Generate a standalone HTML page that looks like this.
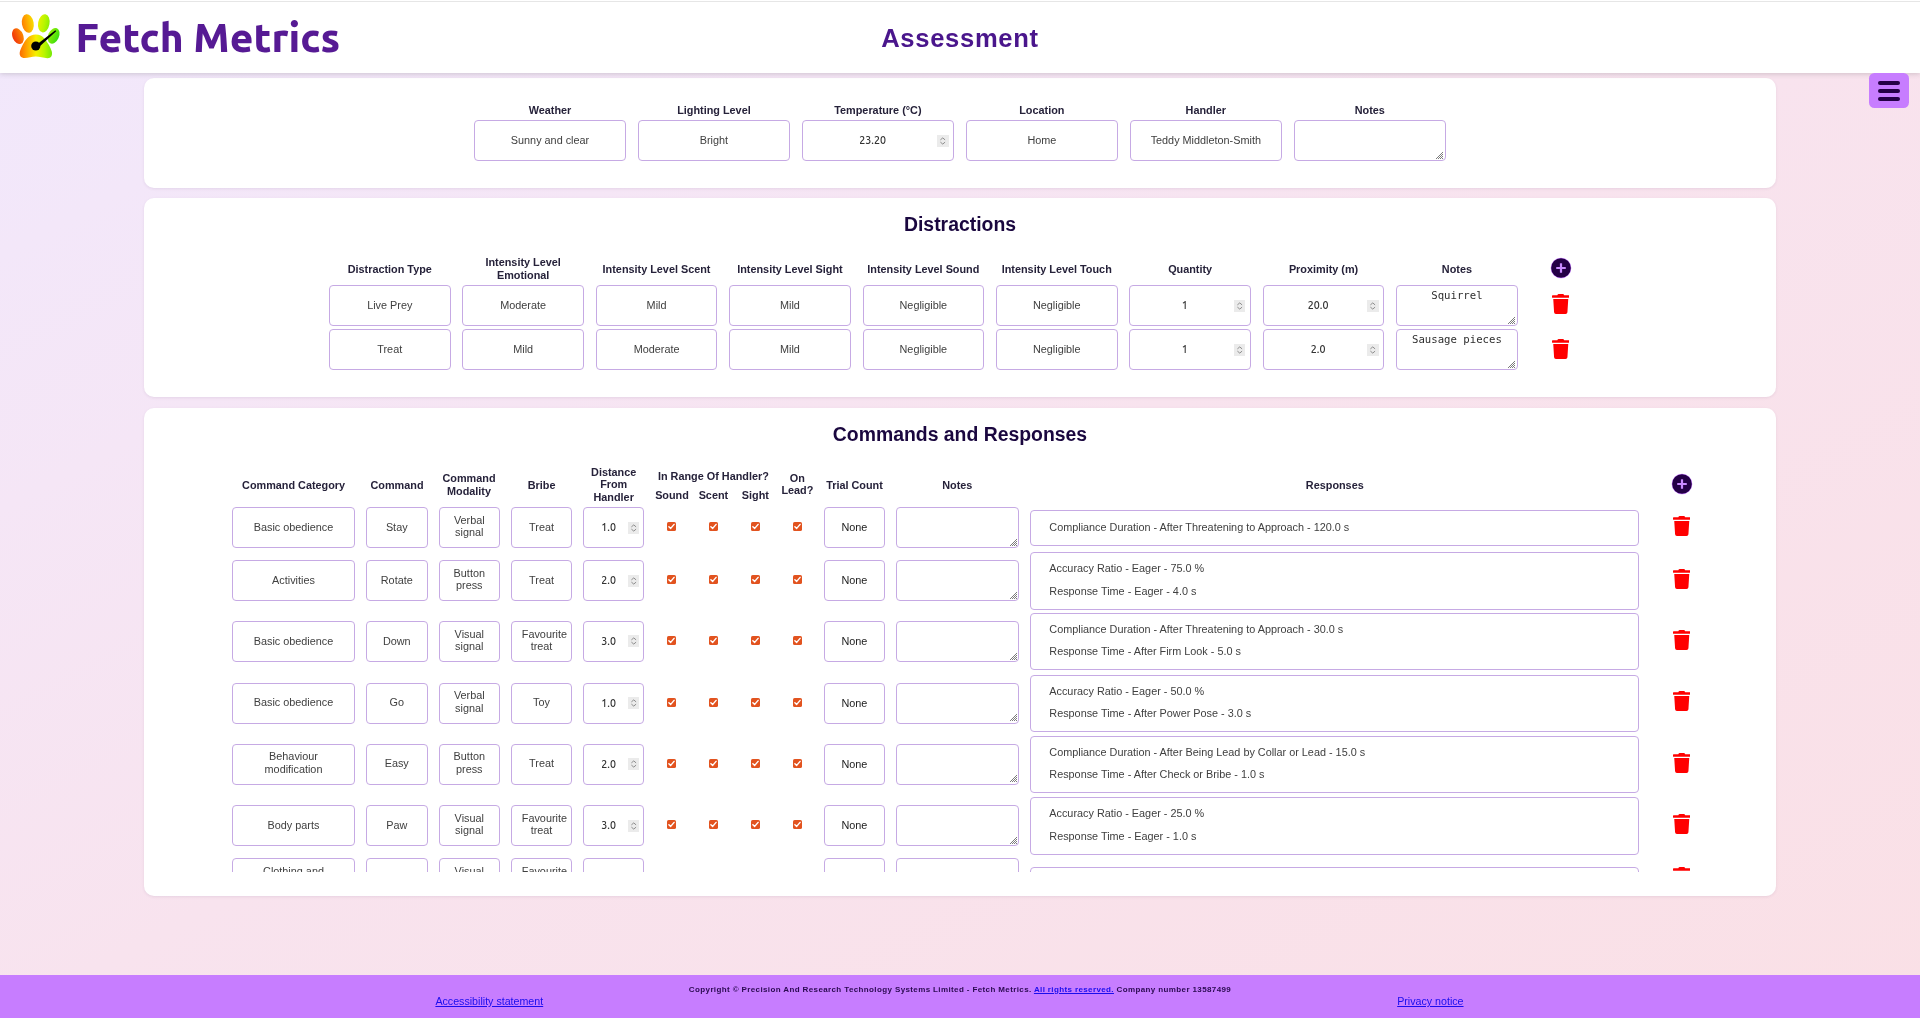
<!DOCTYPE html>
<html lang="en"><head><meta charset="utf-8"><title>Assessment - Fetch Metrics</title>
<style>
*{box-sizing:border-box}
html,body{margin:0;padding:0}
body{width:1920px;height:1018px;overflow:hidden;position:relative;
 background:linear-gradient(to bottom right,#f1e8fc 0%,#f5e6f6 25%,#f8e3ee 50%,#fae0e6 100%);
 font-family:"Liberation Sans", Arial, sans-serif;}
.abs{position:absolute}
#hdr{position:absolute;left:0;top:0;width:1920px;height:73px;background:#fff;
 box-shadow:0 1px 5px rgba(70,70,70,.22);z-index:2}
#hdr .topline{position:absolute;left:0;top:1px;width:1920px;height:1px;background:#e6e6e6}
#logo{position:absolute;left:10px;top:12px}
#brand{position:absolute;left:75.6px;top:12.4px;font-family:"Ubuntu","DejaVu Sans",sans-serif;font-weight:700;
 font-size:40.6px;font-weight:800;color:#561a94;line-height:50px;white-space:nowrap;letter-spacing:0px}
#title{position:absolute;left:0;width:1920px;top:22.8px;text-align:center;font-weight:700;font-size:25.6px;
 color:#4a168c;letter-spacing:0.68px;line-height:30px}
#burger{position:absolute;left:1869.3px;top:73.3px;width:40px;height:34.5px;background:#c77dff;border-radius:5.5px;z-index:3}
#burger i{position:absolute;left:9px;width:22px;height:3.2px;border-radius:2px;background:#240046}
.card{position:absolute;left:144px;width:1632px;background:#fff;border-radius:10px;
 box-shadow:0 1px 3px rgba(90,60,110,.10)}
.inp{position:absolute;background:#fff;border:1px solid #c6aae4;border-radius:4px;overflow:hidden}
.tv{position:absolute;left:9.7px;right:9.7px;top:50%;transform:translateY(-50%);margin-top:-0.8px;text-align:center;font-size:10.85px;
 line-height:12.6px;color:#404040;white-space:nowrap}
.nv{position:absolute;left:3.2px;top:50%;transform:translateY(-50%);margin-top:-0.6px;text-align:center;font-family:"Ubuntu", "Liberation Sans", sans-serif;
 font-size:10.67px;font-weight:500;line-height:12.27px;color:#333;white-space:nowrap}
.spin{position:absolute;top:50%;width:11.5px;height:12px;margin-top:-6px;background:#ebebeb}
.spin i{position:absolute;left:3.2px;width:5px;height:5px;border-left:1.1px solid #8a8a8a;border-top:1.1px solid #8a8a8a}
.spin i.up{top:3px;transform:scaleY(.7) rotate(45deg)}
.spin i.dn{top:4.6px;transform:scaleY(.7) rotate(225deg)}
.ta{position:absolute;left:0;right:0;top:2.6px;text-align:center;font-family:"DejaVu Sans Mono", "Liberation Mono", monospace;font-size:10.67px;
 line-height:13px;color:#2e2e2e;white-space:nowrap}
.grip{position:absolute;right:1.3px;bottom:1.3px}
.lbl{position:absolute;width:200px;text-align:center;font-weight:700;font-size:10.85px;line-height:12.27px;
 color:#26223a;white-space:nowrap}
.h2{position:absolute;left:0;width:1920px;text-align:center;font-weight:700;font-size:19.4px;line-height:22px;color:#1a073f}
.trash{position:absolute}
.plus{position:absolute}
.cb{position:absolute}
.resp{position:absolute;background:#fff;border:1px solid #c6aae4;border-radius:4px;padding:4.5px 18px 6.9px;
 font-size:10.85px;color:#404040}
.resp div{line-height:22.1px;height:22.1px;white-space:nowrap}
#clip{position:absolute;left:0;top:0;width:1920px;height:871.5px;overflow:hidden}
#ftr{position:absolute;left:0;top:975px;width:1920px;height:43px;background:#c77dff}
#ftr a{position:absolute;color:#1a0dee;font-size:10.67px;line-height:12px;text-decoration:underline;white-space:nowrap}
#copy{position:absolute;left:0;width:1920px;top:984.8px;text-align:center;font-weight:700;font-size:8px;
 color:#2a0a50;white-space:nowrap;letter-spacing:0.38px;line-height:10px}
#copy a{color:#1a0dee;text-decoration:underline}
</style></head><body>
<div id="root" style="position:absolute;left:0;top:0;width:1920px;height:1018px;will-change:transform;filter:blur(0.35px)">

<div id="hdr"><div class="topline"></div>
<svg id="logo" width="52" height="50" viewBox="0 0 52 50">
<defs><linearGradient id="pg" x1="2" y1="0" x2="50" y2="0" gradientUnits="userSpaceOnUse">
<stop offset="0" stop-color="#f0300c"/><stop offset="0.28" stop-color="#ff9a00"/>
<stop offset="0.5" stop-color="#f6f000"/><stop offset="0.68" stop-color="#b6f500"/>
<stop offset="1" stop-color="#2fdc10"/></linearGradient></defs>
<g fill="url(#pg)">
<ellipse cx="7.9" cy="24.2" rx="5.4" ry="8.2" transform="rotate(-22 7.9 24.2)"/>
<ellipse cx="17.8" cy="11.5" rx="5.9" ry="9.3" transform="rotate(-10 17.8 11.5)"/>
<ellipse cx="33.8" cy="11.3" rx="5.7" ry="9.2" transform="rotate(10 33.8 11.3)"/>
<ellipse cx="43.6" cy="23.8" rx="5.4" ry="8.2" transform="rotate(24 43.6 23.8)"/>
<path d="M25.8 22.4C29.5 22.4 32.2 23.6 34.4 26.4C37.6 30.4 40.8 35.4 41.8 39.6C42.8 44 40.6 46.4 37.4 46.2C33.4 46 29.6 44.6 25.6 44.6C21.6 44.6 17 46.6 13.4 46C9.8 45.4 9 42 10.2 38.6C11.6 34.4 14 29.6 17.2 26.2C19.6 23.6 22.4 22.4 25.8 22.4Z"/>
</g>
<path d="M24.2 34.6L45.4 18.2L46.2 19.2L26.6 37.2Z" fill="#000"/>
<circle cx="25.8" cy="34" r="4.6" fill="#000"/>
</svg>
<div id="brand">Fetch Metrics</div>
<div id="title">Assessment</div>
</div>
<div id="burger"><i style="top:8.2px"></i><i style="top:16.2px"></i><i style="top:24.2px"></i></div>
<div class="card" style="top:78px;height:110px"></div>
<div class="lbl" style="left:450.0px;top:104.27px;">Weather</div>
<div class="inp" style="left:474.0px;top:120.0px;width:152.0px;height:41px;">
<div class="tv">Sunny and clear</div></div>
<div class="lbl" style="left:613.95px;top:104.27px;">Lighting Level</div>
<div class="inp" style="left:637.95px;top:120.0px;width:152.0px;height:41px;">
<div class="tv">Bright</div></div>
<div class="lbl" style="left:777.9px;top:104.27px;">Temperature (°C)</div>
<div class="inp" style="left:801.9px;top:120.0px;width:152.0px;height:41px;">
<div class="nv" style="width:133.2px">23.20</div>
<svg class="spin" style="right:4.3px" width="11.5" height="12" viewBox="0 0 11.5 12"><path d="M3.4 4.9L5.75 2.9L8.1 4.9M3.4 7.1L5.75 9.1L8.1 7.1" stroke="#8c8c8c" stroke-width="1" fill="none"/></svg>
</div>
<div class="lbl" style="left:941.85px;top:104.27px;">Location</div>
<div class="inp" style="left:965.85px;top:120.0px;width:152.0px;height:41px;">
<div class="tv">Home</div></div>
<div class="lbl" style="left:1105.8px;top:104.27px;">Handler</div>
<div class="inp" style="left:1129.8px;top:120.0px;width:152.0px;height:41px;">
<div class="tv">Teddy Middleton-Smith</div></div>
<div class="lbl" style="left:1269.75px;top:104.27px;">Notes</div>
<div class="inp" style="left:1293.75px;top:120.0px;width:152.0px;height:41px;">
<svg class="grip" width="7" height="7" viewBox="0 0 7 7"><g fill="#7c7c7c"><rect x="0" y="6" width="1" height="1"/><rect x="1" y="5" width="1" height="1"/><rect x="2" y="4" width="1" height="1"/><rect x="2" y="6" width="1" height="1"/><rect x="3" y="3" width="1" height="1"/><rect x="3" y="5" width="1" height="1"/><rect x="4" y="2" width="1" height="1"/><rect x="4" y="4" width="1" height="1"/><rect x="4" y="6" width="1" height="1"/><rect x="5" y="1" width="1" height="1"/><rect x="5" y="3" width="1" height="1"/><rect x="5" y="5" width="1" height="1"/><rect x="6" y="0" width="1" height="1"/><rect x="6" y="2" width="1" height="1"/><rect x="6" y="4" width="1" height="1"/><rect x="6" y="6" width="1" height="1"/></g></svg>
</div>
<div class="card" style="top:197.5px;height:199.5px"></div>
<div class="h2" style="top:212.6px">Distractions</div>
<div class="lbl" style="left:289.75px;top:263.27px;">Distraction Type</div>
<div class="lbl" style="left:423.15px;top:256.4px;">Intensity Level<br>Emotional</div>
<div class="lbl" style="left:556.55px;top:263.27px;">Intensity Level Scent</div>
<div class="lbl" style="left:689.95px;top:263.27px;">Intensity Level Sight</div>
<div class="lbl" style="left:823.35px;top:263.27px;">Intensity Level Sound</div>
<div class="lbl" style="left:956.75px;top:263.27px;">Intensity Level Touch</div>
<div class="lbl" style="left:1090.15px;top:263.27px;">Quantity</div>
<div class="lbl" style="left:1223.55px;top:263.27px;">Proximity (m)</div>
<div class="lbl" style="left:1356.95px;top:263.27px;">Notes</div>
<div class="inp" style="left:329.0px;top:285.0px;width:121.5px;height:41px;">
<div class="tv">Live Prey</div></div>
<div class="inp" style="left:462.4px;top:285.0px;width:121.5px;height:41px;">
<div class="tv">Moderate</div></div>
<div class="inp" style="left:595.8px;top:285.0px;width:121.5px;height:41px;">
<div class="tv">Mild</div></div>
<div class="inp" style="left:729.2px;top:285.0px;width:121.5px;height:41px;">
<div class="tv">Mild</div></div>
<div class="inp" style="left:862.6px;top:285.0px;width:121.5px;height:41px;">
<div class="tv">Negligible</div></div>
<div class="inp" style="left:996.0px;top:285.0px;width:121.5px;height:41px;">
<div class="tv">Negligible</div></div>
<div class="inp" style="left:1129.4px;top:285.0px;width:121.5px;height:41px;">
<div class="nv" style="width:102.4px">1</div>
<svg class="spin" style="right:4.6px" width="11.5" height="12" viewBox="0 0 11.5 12"><path d="M3.4 4.9L5.75 2.9L8.1 4.9M3.4 7.1L5.75 9.1L8.1 7.1" stroke="#8c8c8c" stroke-width="1" fill="none"/></svg>
</div>
<div class="inp" style="left:1262.8px;top:285.0px;width:121.5px;height:41px;">
<div class="nv" style="width:102.4px">20.0</div>
<svg class="spin" style="right:4.6px" width="11.5" height="12" viewBox="0 0 11.5 12"><path d="M3.4 4.9L5.75 2.9L8.1 4.9M3.4 7.1L5.75 9.1L8.1 7.1" stroke="#8c8c8c" stroke-width="1" fill="none"/></svg>
</div>
<div class="inp" style="left:1396.2px;top:285.0px;width:121.5px;height:41px;">
<div class="ta">Squirrel</div>
<svg class="grip" width="7" height="7" viewBox="0 0 7 7"><g fill="#7c7c7c"><rect x="0" y="6" width="1" height="1"/><rect x="1" y="5" width="1" height="1"/><rect x="2" y="4" width="1" height="1"/><rect x="2" y="6" width="1" height="1"/><rect x="3" y="3" width="1" height="1"/><rect x="3" y="5" width="1" height="1"/><rect x="4" y="2" width="1" height="1"/><rect x="4" y="4" width="1" height="1"/><rect x="4" y="6" width="1" height="1"/><rect x="5" y="1" width="1" height="1"/><rect x="5" y="3" width="1" height="1"/><rect x="5" y="5" width="1" height="1"/><rect x="6" y="0" width="1" height="1"/><rect x="6" y="2" width="1" height="1"/><rect x="6" y="4" width="1" height="1"/><rect x="6" y="6" width="1" height="1"/></g></svg>
</div>
<div class="inp" style="left:329.0px;top:329.3px;width:121.5px;height:41px;">
<div class="tv">Treat</div></div>
<div class="inp" style="left:462.4px;top:329.3px;width:121.5px;height:41px;">
<div class="tv">Mild</div></div>
<div class="inp" style="left:595.8px;top:329.3px;width:121.5px;height:41px;">
<div class="tv">Moderate</div></div>
<div class="inp" style="left:729.2px;top:329.3px;width:121.5px;height:41px;">
<div class="tv">Mild</div></div>
<div class="inp" style="left:862.6px;top:329.3px;width:121.5px;height:41px;">
<div class="tv">Negligible</div></div>
<div class="inp" style="left:996.0px;top:329.3px;width:121.5px;height:41px;">
<div class="tv">Negligible</div></div>
<div class="inp" style="left:1129.4px;top:329.3px;width:121.5px;height:41px;">
<div class="nv" style="width:102.4px">1</div>
<svg class="spin" style="right:4.6px" width="11.5" height="12" viewBox="0 0 11.5 12"><path d="M3.4 4.9L5.75 2.9L8.1 4.9M3.4 7.1L5.75 9.1L8.1 7.1" stroke="#8c8c8c" stroke-width="1" fill="none"/></svg>
</div>
<div class="inp" style="left:1262.8px;top:329.3px;width:121.5px;height:41px;">
<div class="nv" style="width:102.4px">2.0</div>
<svg class="spin" style="right:4.6px" width="11.5" height="12" viewBox="0 0 11.5 12"><path d="M3.4 4.9L5.75 2.9L8.1 4.9M3.4 7.1L5.75 9.1L8.1 7.1" stroke="#8c8c8c" stroke-width="1" fill="none"/></svg>
</div>
<div class="inp" style="left:1396.2px;top:329.3px;width:121.5px;height:41px;">
<div class="ta">Sausage pieces</div>
<svg class="grip" width="7" height="7" viewBox="0 0 7 7"><g fill="#7c7c7c"><rect x="0" y="6" width="1" height="1"/><rect x="1" y="5" width="1" height="1"/><rect x="2" y="4" width="1" height="1"/><rect x="2" y="6" width="1" height="1"/><rect x="3" y="3" width="1" height="1"/><rect x="3" y="5" width="1" height="1"/><rect x="4" y="2" width="1" height="1"/><rect x="4" y="4" width="1" height="1"/><rect x="4" y="6" width="1" height="1"/><rect x="5" y="1" width="1" height="1"/><rect x="5" y="3" width="1" height="1"/><rect x="5" y="5" width="1" height="1"/><rect x="6" y="0" width="1" height="1"/><rect x="6" y="2" width="1" height="1"/><rect x="6" y="4" width="1" height="1"/><rect x="6" y="6" width="1" height="1"/></g></svg>
</div>
<svg class="plus" style="left:1549.6px;top:257.3px" width="22" height="22" viewBox="0 0 22 22"><circle cx="11" cy="11" r="10.3" fill="#c77dff"/><circle cx="11" cy="11" r="9.8" fill="#240046"/><rect x="6.2" y="9.9" width="9.6" height="2.2" rx="0.5" fill="#c98aff"/><rect x="9.9" y="6.2" width="2.2" height="9.6" rx="0.5" fill="#c98aff"/></svg>
<svg class="trash" style="left:1551.85px;top:293.7px" viewBox="0 0 448 512" width="17.5" height="20"><path fill="#ff0000" d="M432 32H312l-9.4-18.7A24 24 0 0 0 281.1 0H166.8a23.72 23.72 0 0 0-21.4 13.3L136 32H16A16 16 0 0 0 0 48v32a16 16 0 0 0 16 16h416a16 16 0 0 0 16-16V48a16 16 0 0 0-16-16zM53.2 467a48 48 0 0 0 47.9 45h245.8a48 48 0 0 0 47.9-45L416 128H32z"/></svg>
<svg class="trash" style="left:1551.85px;top:338.6px" viewBox="0 0 448 512" width="17.5" height="20"><path fill="#ff0000" d="M432 32H312l-9.4-18.7A24 24 0 0 0 281.1 0H166.8a23.72 23.72 0 0 0-21.4 13.3L136 32H16A16 16 0 0 0 0 48v32a16 16 0 0 0 16 16h416a16 16 0 0 0 16-16V48a16 16 0 0 0-16-16zM53.2 467a48 48 0 0 0 47.9 45h245.8a48 48 0 0 0 47.9-45L416 128H32z"/></svg>
<div class="card" style="top:408px;height:488px"></div>
<div class="h2" style="top:422.6px">Commands and Responses</div>
<div class="lbl" style="left:193.6px;top:479.17px;">Command Category</div>
<div class="lbl" style="left:297.0px;top:479.17px;">Command</div>
<div class="lbl" style="left:369.0px;top:472.37px;">Command<br>Modality</div>
<div class="lbl" style="left:441.6px;top:479.17px;">Bribe</div>
<div class="lbl" style="left:513.7px;top:466.15px;">Distance<br>From<br>Handler</div>
<div class="lbl" style="left:613.4px;top:469.57px;">In Range Of Handler?</div>
<div class="lbl" style="left:572.0px;top:488.97px;">Sound</div>
<div class="lbl" style="left:613.4px;top:488.97px;">Scent</div>
<div class="lbl" style="left:655.4px;top:488.97px;">Sight</div>
<div class="lbl" style="left:697.4px;top:471.8px;">On<br>Lead?</div>
<div class="lbl" style="left:754.5px;top:478.77px;">Trial Count</div>
<div class="lbl" style="left:857.3px;top:478.97px;">Notes</div>
<div class="lbl" style="left:1234.8px;top:478.97px;">Responses</div>
<svg class="plus" style="left:1670.9px;top:473.3px" width="22" height="22" viewBox="0 0 22 22"><circle cx="11" cy="11" r="10.3" fill="#c77dff"/><circle cx="11" cy="11" r="9.8" fill="#240046"/><rect x="6.2" y="9.9" width="9.6" height="2.2" rx="0.5" fill="#c98aff"/><rect x="9.9" y="6.2" width="2.2" height="9.6" rx="0.5" fill="#c98aff"/></svg>
<div id="clip">
<div class="inp" style="left:232.0px;top:507.0px;width:123.0px;height:41px;">
<div class="tv">Basic obedience</div></div>
<div class="inp" style="left:365.8px;top:507.0px;width:61.9px;height:41px;">
<div class="tv">Stay</div></div>
<div class="inp" style="left:438.9px;top:507.0px;width:60.8px;height:41px;">
<div class="tv">Verbal<br>signal</div></div>
<div class="inp" style="left:511.1px;top:507.0px;width:60.9px;height:41px;">
<div class="tv">Treat</div></div>
<div class="inp" style="left:583.1px;top:507.0px;width:61.1px;height:41px;">
<div class="nv" style="width:42.6px">1.0</div>
<svg class="spin" style="right:4.0px" width="11.5" height="12" viewBox="0 0 11.5 12"><path d="M3.4 4.9L5.75 2.9L8.1 4.9M3.4 7.1L5.75 9.1L8.1 7.1" stroke="#8c8c8c" stroke-width="1" fill="none"/></svg>
</div>
<svg class="cb" style="left:666.9px;top:522.4px" width="9" height="9" viewBox="0 0 9 9"><rect x="0" y="0" width="9" height="9" rx="1.6" fill="#e2531f"/><path d="M1.9 4.7L3.7 6.4L7.1 2.4" stroke="#fff" stroke-width="1.45" fill="none" stroke-linecap="round" stroke-linejoin="round"/></svg>
<svg class="cb" style="left:708.9px;top:522.4px" width="9" height="9" viewBox="0 0 9 9"><rect x="0" y="0" width="9" height="9" rx="1.6" fill="#e2531f"/><path d="M1.9 4.7L3.7 6.4L7.1 2.4" stroke="#fff" stroke-width="1.45" fill="none" stroke-linecap="round" stroke-linejoin="round"/></svg>
<svg class="cb" style="left:750.9px;top:522.4px" width="9" height="9" viewBox="0 0 9 9"><rect x="0" y="0" width="9" height="9" rx="1.6" fill="#e2531f"/><path d="M1.9 4.7L3.7 6.4L7.1 2.4" stroke="#fff" stroke-width="1.45" fill="none" stroke-linecap="round" stroke-linejoin="round"/></svg>
<svg class="cb" style="left:792.9px;top:522.4px" width="9" height="9" viewBox="0 0 9 9"><rect x="0" y="0" width="9" height="9" rx="1.6" fill="#e2531f"/><path d="M1.9 4.7L3.7 6.4L7.1 2.4" stroke="#fff" stroke-width="1.45" fill="none" stroke-linecap="round" stroke-linejoin="round"/></svg>
<div class="inp" style="left:824.0px;top:507.0px;width:60.9px;height:41px;">
<div class="tv" style="color:#222;margin-top:-0.3px">None</div></div>
<div class="inp" style="left:896.0px;top:507.0px;width:122.9px;height:41px;">
<svg class="grip" width="7" height="7" viewBox="0 0 7 7"><g fill="#7c7c7c"><rect x="0" y="6" width="1" height="1"/><rect x="1" y="5" width="1" height="1"/><rect x="2" y="4" width="1" height="1"/><rect x="2" y="6" width="1" height="1"/><rect x="3" y="3" width="1" height="1"/><rect x="3" y="5" width="1" height="1"/><rect x="4" y="2" width="1" height="1"/><rect x="4" y="4" width="1" height="1"/><rect x="4" y="6" width="1" height="1"/><rect x="5" y="1" width="1" height="1"/><rect x="5" y="3" width="1" height="1"/><rect x="5" y="5" width="1" height="1"/><rect x="6" y="0" width="1" height="1"/><rect x="6" y="2" width="1" height="1"/><rect x="6" y="4" width="1" height="1"/><rect x="6" y="6" width="1" height="1"/></g></svg>
</div>
<div class="resp" style="left:1030.3px;top:510.0px;width:609.2px;height:35.5px">
<div>Compliance Duration - After Threatening to Approach - 120.0 s</div>
</div>
<svg class="trash" style="left:1672.65px;top:515.8px" viewBox="0 0 448 512" width="17.5" height="20"><path fill="#ff0000" d="M432 32H312l-9.4-18.7A24 24 0 0 0 281.1 0H166.8a23.72 23.72 0 0 0-21.4 13.3L136 32H16A16 16 0 0 0 0 48v32a16 16 0 0 0 16 16h416a16 16 0 0 0 16-16V48a16 16 0 0 0-16-16zM53.2 467a48 48 0 0 0 47.9 45h245.8a48 48 0 0 0 47.9-45L416 128H32z"/></svg>
<div class="inp" style="left:232.0px;top:560.0px;width:123.0px;height:41px;">
<div class="tv">Activities</div></div>
<div class="inp" style="left:365.8px;top:560.0px;width:61.9px;height:41px;">
<div class="tv">Rotate</div></div>
<div class="inp" style="left:438.9px;top:560.0px;width:60.8px;height:41px;">
<div class="tv">Button<br>press</div></div>
<div class="inp" style="left:511.1px;top:560.0px;width:60.9px;height:41px;">
<div class="tv">Treat</div></div>
<div class="inp" style="left:583.1px;top:560.0px;width:61.1px;height:41px;">
<div class="nv" style="width:42.6px">2.0</div>
<svg class="spin" style="right:4.0px" width="11.5" height="12" viewBox="0 0 11.5 12"><path d="M3.4 4.9L5.75 2.9L8.1 4.9M3.4 7.1L5.75 9.1L8.1 7.1" stroke="#8c8c8c" stroke-width="1" fill="none"/></svg>
</div>
<svg class="cb" style="left:666.9px;top:575.4px" width="9" height="9" viewBox="0 0 9 9"><rect x="0" y="0" width="9" height="9" rx="1.6" fill="#e2531f"/><path d="M1.9 4.7L3.7 6.4L7.1 2.4" stroke="#fff" stroke-width="1.45" fill="none" stroke-linecap="round" stroke-linejoin="round"/></svg>
<svg class="cb" style="left:708.9px;top:575.4px" width="9" height="9" viewBox="0 0 9 9"><rect x="0" y="0" width="9" height="9" rx="1.6" fill="#e2531f"/><path d="M1.9 4.7L3.7 6.4L7.1 2.4" stroke="#fff" stroke-width="1.45" fill="none" stroke-linecap="round" stroke-linejoin="round"/></svg>
<svg class="cb" style="left:750.9px;top:575.4px" width="9" height="9" viewBox="0 0 9 9"><rect x="0" y="0" width="9" height="9" rx="1.6" fill="#e2531f"/><path d="M1.9 4.7L3.7 6.4L7.1 2.4" stroke="#fff" stroke-width="1.45" fill="none" stroke-linecap="round" stroke-linejoin="round"/></svg>
<svg class="cb" style="left:792.9px;top:575.4px" width="9" height="9" viewBox="0 0 9 9"><rect x="0" y="0" width="9" height="9" rx="1.6" fill="#e2531f"/><path d="M1.9 4.7L3.7 6.4L7.1 2.4" stroke="#fff" stroke-width="1.45" fill="none" stroke-linecap="round" stroke-linejoin="round"/></svg>
<div class="inp" style="left:824.0px;top:560.0px;width:60.9px;height:41px;">
<div class="tv" style="color:#222;margin-top:-0.3px">None</div></div>
<div class="inp" style="left:896.0px;top:560.0px;width:122.9px;height:41px;">
<svg class="grip" width="7" height="7" viewBox="0 0 7 7"><g fill="#7c7c7c"><rect x="0" y="6" width="1" height="1"/><rect x="1" y="5" width="1" height="1"/><rect x="2" y="4" width="1" height="1"/><rect x="2" y="6" width="1" height="1"/><rect x="3" y="3" width="1" height="1"/><rect x="3" y="5" width="1" height="1"/><rect x="4" y="2" width="1" height="1"/><rect x="4" y="4" width="1" height="1"/><rect x="4" y="6" width="1" height="1"/><rect x="5" y="1" width="1" height="1"/><rect x="5" y="3" width="1" height="1"/><rect x="5" y="5" width="1" height="1"/><rect x="6" y="0" width="1" height="1"/><rect x="6" y="2" width="1" height="1"/><rect x="6" y="4" width="1" height="1"/><rect x="6" y="6" width="1" height="1"/></g></svg>
</div>
<div class="resp" style="left:1030.3px;top:551.95px;width:609.2px;height:57.6px">
<div>Accuracy Ratio - Eager - 75.0 %</div>
<div>Response Time - Eager - 4.0 s</div>
</div>
<svg class="trash" style="left:1672.65px;top:568.8px" viewBox="0 0 448 512" width="17.5" height="20"><path fill="#ff0000" d="M432 32H312l-9.4-18.7A24 24 0 0 0 281.1 0H166.8a23.72 23.72 0 0 0-21.4 13.3L136 32H16A16 16 0 0 0 0 48v32a16 16 0 0 0 16 16h416a16 16 0 0 0 16-16V48a16 16 0 0 0-16-16zM53.2 467a48 48 0 0 0 47.9 45h245.8a48 48 0 0 0 47.9-45L416 128H32z"/></svg>
<div class="inp" style="left:232.0px;top:620.9px;width:123.0px;height:41px;">
<div class="tv">Basic obedience</div></div>
<div class="inp" style="left:365.8px;top:620.9px;width:61.9px;height:41px;">
<div class="tv">Down</div></div>
<div class="inp" style="left:438.9px;top:620.9px;width:60.8px;height:41px;">
<div class="tv">Visual<br>signal</div></div>
<div class="inp" style="left:511.1px;top:620.9px;width:60.9px;height:41px;">
<div class="tv">Favourite<br>treat</div></div>
<div class="inp" style="left:583.1px;top:620.9px;width:61.1px;height:41px;">
<div class="nv" style="width:42.6px">3.0</div>
<svg class="spin" style="right:4.0px" width="11.5" height="12" viewBox="0 0 11.5 12"><path d="M3.4 4.9L5.75 2.9L8.1 4.9M3.4 7.1L5.75 9.1L8.1 7.1" stroke="#8c8c8c" stroke-width="1" fill="none"/></svg>
</div>
<svg class="cb" style="left:666.9px;top:636.3px" width="9" height="9" viewBox="0 0 9 9"><rect x="0" y="0" width="9" height="9" rx="1.6" fill="#e2531f"/><path d="M1.9 4.7L3.7 6.4L7.1 2.4" stroke="#fff" stroke-width="1.45" fill="none" stroke-linecap="round" stroke-linejoin="round"/></svg>
<svg class="cb" style="left:708.9px;top:636.3px" width="9" height="9" viewBox="0 0 9 9"><rect x="0" y="0" width="9" height="9" rx="1.6" fill="#e2531f"/><path d="M1.9 4.7L3.7 6.4L7.1 2.4" stroke="#fff" stroke-width="1.45" fill="none" stroke-linecap="round" stroke-linejoin="round"/></svg>
<svg class="cb" style="left:750.9px;top:636.3px" width="9" height="9" viewBox="0 0 9 9"><rect x="0" y="0" width="9" height="9" rx="1.6" fill="#e2531f"/><path d="M1.9 4.7L3.7 6.4L7.1 2.4" stroke="#fff" stroke-width="1.45" fill="none" stroke-linecap="round" stroke-linejoin="round"/></svg>
<svg class="cb" style="left:792.9px;top:636.3px" width="9" height="9" viewBox="0 0 9 9"><rect x="0" y="0" width="9" height="9" rx="1.6" fill="#e2531f"/><path d="M1.9 4.7L3.7 6.4L7.1 2.4" stroke="#fff" stroke-width="1.45" fill="none" stroke-linecap="round" stroke-linejoin="round"/></svg>
<div class="inp" style="left:824.0px;top:620.9px;width:60.9px;height:41px;">
<div class="tv" style="color:#222;margin-top:-0.3px">None</div></div>
<div class="inp" style="left:896.0px;top:620.9px;width:122.9px;height:41px;">
<svg class="grip" width="7" height="7" viewBox="0 0 7 7"><g fill="#7c7c7c"><rect x="0" y="6" width="1" height="1"/><rect x="1" y="5" width="1" height="1"/><rect x="2" y="4" width="1" height="1"/><rect x="2" y="6" width="1" height="1"/><rect x="3" y="3" width="1" height="1"/><rect x="3" y="5" width="1" height="1"/><rect x="4" y="2" width="1" height="1"/><rect x="4" y="4" width="1" height="1"/><rect x="4" y="6" width="1" height="1"/><rect x="5" y="1" width="1" height="1"/><rect x="5" y="3" width="1" height="1"/><rect x="5" y="5" width="1" height="1"/><rect x="6" y="0" width="1" height="1"/><rect x="6" y="2" width="1" height="1"/><rect x="6" y="4" width="1" height="1"/><rect x="6" y="6" width="1" height="1"/></g></svg>
</div>
<div class="resp" style="left:1030.3px;top:612.85px;width:609.2px;height:57.6px">
<div>Compliance Duration - After Threatening to Approach - 30.0 s</div>
<div>Response Time - After Firm Look - 5.0 s</div>
</div>
<svg class="trash" style="left:1672.65px;top:629.7px" viewBox="0 0 448 512" width="17.5" height="20"><path fill="#ff0000" d="M432 32H312l-9.4-18.7A24 24 0 0 0 281.1 0H166.8a23.72 23.72 0 0 0-21.4 13.3L136 32H16A16 16 0 0 0 0 48v32a16 16 0 0 0 16 16h416a16 16 0 0 0 16-16V48a16 16 0 0 0-16-16zM53.2 467a48 48 0 0 0 47.9 45h245.8a48 48 0 0 0 47.9-45L416 128H32z"/></svg>
<div class="inp" style="left:232.0px;top:682.6px;width:123.0px;height:41px;">
<div class="tv">Basic obedience</div></div>
<div class="inp" style="left:365.8px;top:682.6px;width:61.9px;height:41px;">
<div class="tv">Go</div></div>
<div class="inp" style="left:438.9px;top:682.6px;width:60.8px;height:41px;">
<div class="tv">Verbal<br>signal</div></div>
<div class="inp" style="left:511.1px;top:682.6px;width:60.9px;height:41px;">
<div class="tv">Toy</div></div>
<div class="inp" style="left:583.1px;top:682.6px;width:61.1px;height:41px;">
<div class="nv" style="width:42.6px">1.0</div>
<svg class="spin" style="right:4.0px" width="11.5" height="12" viewBox="0 0 11.5 12"><path d="M3.4 4.9L5.75 2.9L8.1 4.9M3.4 7.1L5.75 9.1L8.1 7.1" stroke="#8c8c8c" stroke-width="1" fill="none"/></svg>
</div>
<svg class="cb" style="left:666.9px;top:698.0px" width="9" height="9" viewBox="0 0 9 9"><rect x="0" y="0" width="9" height="9" rx="1.6" fill="#e2531f"/><path d="M1.9 4.7L3.7 6.4L7.1 2.4" stroke="#fff" stroke-width="1.45" fill="none" stroke-linecap="round" stroke-linejoin="round"/></svg>
<svg class="cb" style="left:708.9px;top:698.0px" width="9" height="9" viewBox="0 0 9 9"><rect x="0" y="0" width="9" height="9" rx="1.6" fill="#e2531f"/><path d="M1.9 4.7L3.7 6.4L7.1 2.4" stroke="#fff" stroke-width="1.45" fill="none" stroke-linecap="round" stroke-linejoin="round"/></svg>
<svg class="cb" style="left:750.9px;top:698.0px" width="9" height="9" viewBox="0 0 9 9"><rect x="0" y="0" width="9" height="9" rx="1.6" fill="#e2531f"/><path d="M1.9 4.7L3.7 6.4L7.1 2.4" stroke="#fff" stroke-width="1.45" fill="none" stroke-linecap="round" stroke-linejoin="round"/></svg>
<svg class="cb" style="left:792.9px;top:698.0px" width="9" height="9" viewBox="0 0 9 9"><rect x="0" y="0" width="9" height="9" rx="1.6" fill="#e2531f"/><path d="M1.9 4.7L3.7 6.4L7.1 2.4" stroke="#fff" stroke-width="1.45" fill="none" stroke-linecap="round" stroke-linejoin="round"/></svg>
<div class="inp" style="left:824.0px;top:682.6px;width:60.9px;height:41px;">
<div class="tv" style="color:#222;margin-top:-0.3px">None</div></div>
<div class="inp" style="left:896.0px;top:682.6px;width:122.9px;height:41px;">
<svg class="grip" width="7" height="7" viewBox="0 0 7 7"><g fill="#7c7c7c"><rect x="0" y="6" width="1" height="1"/><rect x="1" y="5" width="1" height="1"/><rect x="2" y="4" width="1" height="1"/><rect x="2" y="6" width="1" height="1"/><rect x="3" y="3" width="1" height="1"/><rect x="3" y="5" width="1" height="1"/><rect x="4" y="2" width="1" height="1"/><rect x="4" y="4" width="1" height="1"/><rect x="4" y="6" width="1" height="1"/><rect x="5" y="1" width="1" height="1"/><rect x="5" y="3" width="1" height="1"/><rect x="5" y="5" width="1" height="1"/><rect x="6" y="0" width="1" height="1"/><rect x="6" y="2" width="1" height="1"/><rect x="6" y="4" width="1" height="1"/><rect x="6" y="6" width="1" height="1"/></g></svg>
</div>
<div class="resp" style="left:1030.3px;top:674.55px;width:609.2px;height:57.6px">
<div>Accuracy Ratio - Eager - 50.0 %</div>
<div>Response Time - After Power Pose - 3.0 s</div>
</div>
<svg class="trash" style="left:1672.65px;top:691.4px" viewBox="0 0 448 512" width="17.5" height="20"><path fill="#ff0000" d="M432 32H312l-9.4-18.7A24 24 0 0 0 281.1 0H166.8a23.72 23.72 0 0 0-21.4 13.3L136 32H16A16 16 0 0 0 0 48v32a16 16 0 0 0 16 16h416a16 16 0 0 0 16-16V48a16 16 0 0 0-16-16zM53.2 467a48 48 0 0 0 47.9 45h245.8a48 48 0 0 0 47.9-45L416 128H32z"/></svg>
<div class="inp" style="left:232.0px;top:743.7px;width:123.0px;height:41px;">
<div class="tv">Behaviour<br>modification</div></div>
<div class="inp" style="left:365.8px;top:743.7px;width:61.9px;height:41px;">
<div class="tv">Easy</div></div>
<div class="inp" style="left:438.9px;top:743.7px;width:60.8px;height:41px;">
<div class="tv">Button<br>press</div></div>
<div class="inp" style="left:511.1px;top:743.7px;width:60.9px;height:41px;">
<div class="tv">Treat</div></div>
<div class="inp" style="left:583.1px;top:743.7px;width:61.1px;height:41px;">
<div class="nv" style="width:42.6px">2.0</div>
<svg class="spin" style="right:4.0px" width="11.5" height="12" viewBox="0 0 11.5 12"><path d="M3.4 4.9L5.75 2.9L8.1 4.9M3.4 7.1L5.75 9.1L8.1 7.1" stroke="#8c8c8c" stroke-width="1" fill="none"/></svg>
</div>
<svg class="cb" style="left:666.9px;top:759.1px" width="9" height="9" viewBox="0 0 9 9"><rect x="0" y="0" width="9" height="9" rx="1.6" fill="#e2531f"/><path d="M1.9 4.7L3.7 6.4L7.1 2.4" stroke="#fff" stroke-width="1.45" fill="none" stroke-linecap="round" stroke-linejoin="round"/></svg>
<svg class="cb" style="left:708.9px;top:759.1px" width="9" height="9" viewBox="0 0 9 9"><rect x="0" y="0" width="9" height="9" rx="1.6" fill="#e2531f"/><path d="M1.9 4.7L3.7 6.4L7.1 2.4" stroke="#fff" stroke-width="1.45" fill="none" stroke-linecap="round" stroke-linejoin="round"/></svg>
<svg class="cb" style="left:750.9px;top:759.1px" width="9" height="9" viewBox="0 0 9 9"><rect x="0" y="0" width="9" height="9" rx="1.6" fill="#e2531f"/><path d="M1.9 4.7L3.7 6.4L7.1 2.4" stroke="#fff" stroke-width="1.45" fill="none" stroke-linecap="round" stroke-linejoin="round"/></svg>
<svg class="cb" style="left:792.9px;top:759.1px" width="9" height="9" viewBox="0 0 9 9"><rect x="0" y="0" width="9" height="9" rx="1.6" fill="#e2531f"/><path d="M1.9 4.7L3.7 6.4L7.1 2.4" stroke="#fff" stroke-width="1.45" fill="none" stroke-linecap="round" stroke-linejoin="round"/></svg>
<div class="inp" style="left:824.0px;top:743.7px;width:60.9px;height:41px;">
<div class="tv" style="color:#222;margin-top:-0.3px">None</div></div>
<div class="inp" style="left:896.0px;top:743.7px;width:122.9px;height:41px;">
<svg class="grip" width="7" height="7" viewBox="0 0 7 7"><g fill="#7c7c7c"><rect x="0" y="6" width="1" height="1"/><rect x="1" y="5" width="1" height="1"/><rect x="2" y="4" width="1" height="1"/><rect x="2" y="6" width="1" height="1"/><rect x="3" y="3" width="1" height="1"/><rect x="3" y="5" width="1" height="1"/><rect x="4" y="2" width="1" height="1"/><rect x="4" y="4" width="1" height="1"/><rect x="4" y="6" width="1" height="1"/><rect x="5" y="1" width="1" height="1"/><rect x="5" y="3" width="1" height="1"/><rect x="5" y="5" width="1" height="1"/><rect x="6" y="0" width="1" height="1"/><rect x="6" y="2" width="1" height="1"/><rect x="6" y="4" width="1" height="1"/><rect x="6" y="6" width="1" height="1"/></g></svg>
</div>
<div class="resp" style="left:1030.3px;top:735.65px;width:609.2px;height:57.6px">
<div>Compliance Duration - After Being Lead by Collar or Lead - 15.0 s</div>
<div>Response Time - After Check or Bribe - 1.0 s</div>
</div>
<svg class="trash" style="left:1672.65px;top:752.5px" viewBox="0 0 448 512" width="17.5" height="20"><path fill="#ff0000" d="M432 32H312l-9.4-18.7A24 24 0 0 0 281.1 0H166.8a23.72 23.72 0 0 0-21.4 13.3L136 32H16A16 16 0 0 0 0 48v32a16 16 0 0 0 16 16h416a16 16 0 0 0 16-16V48a16 16 0 0 0-16-16zM53.2 467a48 48 0 0 0 47.9 45h245.8a48 48 0 0 0 47.9-45L416 128H32z"/></svg>
<div class="inp" style="left:232.0px;top:805.0px;width:123.0px;height:41px;">
<div class="tv">Body parts</div></div>
<div class="inp" style="left:365.8px;top:805.0px;width:61.9px;height:41px;">
<div class="tv">Paw</div></div>
<div class="inp" style="left:438.9px;top:805.0px;width:60.8px;height:41px;">
<div class="tv">Visual<br>signal</div></div>
<div class="inp" style="left:511.1px;top:805.0px;width:60.9px;height:41px;">
<div class="tv">Favourite<br>treat</div></div>
<div class="inp" style="left:583.1px;top:805.0px;width:61.1px;height:41px;">
<div class="nv" style="width:42.6px">3.0</div>
<svg class="spin" style="right:4.0px" width="11.5" height="12" viewBox="0 0 11.5 12"><path d="M3.4 4.9L5.75 2.9L8.1 4.9M3.4 7.1L5.75 9.1L8.1 7.1" stroke="#8c8c8c" stroke-width="1" fill="none"/></svg>
</div>
<svg class="cb" style="left:666.9px;top:820.4px" width="9" height="9" viewBox="0 0 9 9"><rect x="0" y="0" width="9" height="9" rx="1.6" fill="#e2531f"/><path d="M1.9 4.7L3.7 6.4L7.1 2.4" stroke="#fff" stroke-width="1.45" fill="none" stroke-linecap="round" stroke-linejoin="round"/></svg>
<svg class="cb" style="left:708.9px;top:820.4px" width="9" height="9" viewBox="0 0 9 9"><rect x="0" y="0" width="9" height="9" rx="1.6" fill="#e2531f"/><path d="M1.9 4.7L3.7 6.4L7.1 2.4" stroke="#fff" stroke-width="1.45" fill="none" stroke-linecap="round" stroke-linejoin="round"/></svg>
<svg class="cb" style="left:750.9px;top:820.4px" width="9" height="9" viewBox="0 0 9 9"><rect x="0" y="0" width="9" height="9" rx="1.6" fill="#e2531f"/><path d="M1.9 4.7L3.7 6.4L7.1 2.4" stroke="#fff" stroke-width="1.45" fill="none" stroke-linecap="round" stroke-linejoin="round"/></svg>
<svg class="cb" style="left:792.9px;top:820.4px" width="9" height="9" viewBox="0 0 9 9"><rect x="0" y="0" width="9" height="9" rx="1.6" fill="#e2531f"/><path d="M1.9 4.7L3.7 6.4L7.1 2.4" stroke="#fff" stroke-width="1.45" fill="none" stroke-linecap="round" stroke-linejoin="round"/></svg>
<div class="inp" style="left:824.0px;top:805.0px;width:60.9px;height:41px;">
<div class="tv" style="color:#222;margin-top:-0.3px">None</div></div>
<div class="inp" style="left:896.0px;top:805.0px;width:122.9px;height:41px;">
<svg class="grip" width="7" height="7" viewBox="0 0 7 7"><g fill="#7c7c7c"><rect x="0" y="6" width="1" height="1"/><rect x="1" y="5" width="1" height="1"/><rect x="2" y="4" width="1" height="1"/><rect x="2" y="6" width="1" height="1"/><rect x="3" y="3" width="1" height="1"/><rect x="3" y="5" width="1" height="1"/><rect x="4" y="2" width="1" height="1"/><rect x="4" y="4" width="1" height="1"/><rect x="4" y="6" width="1" height="1"/><rect x="5" y="1" width="1" height="1"/><rect x="5" y="3" width="1" height="1"/><rect x="5" y="5" width="1" height="1"/><rect x="6" y="0" width="1" height="1"/><rect x="6" y="2" width="1" height="1"/><rect x="6" y="4" width="1" height="1"/><rect x="6" y="6" width="1" height="1"/></g></svg>
</div>
<div class="resp" style="left:1030.3px;top:796.95px;width:609.2px;height:57.6px">
<div>Accuracy Ratio - Eager - 25.0 %</div>
<div>Response Time - Eager - 1.0 s</div>
</div>
<svg class="trash" style="left:1672.65px;top:813.8px" viewBox="0 0 448 512" width="17.5" height="20"><path fill="#ff0000" d="M432 32H312l-9.4-18.7A24 24 0 0 0 281.1 0H166.8a23.72 23.72 0 0 0-21.4 13.3L136 32H16A16 16 0 0 0 0 48v32a16 16 0 0 0 16 16h416a16 16 0 0 0 16-16V48a16 16 0 0 0-16-16zM53.2 467a48 48 0 0 0 47.9 45h245.8a48 48 0 0 0 47.9-45L416 128H32z"/></svg>
<div class="inp" style="left:232.0px;top:858.4px;width:123.0px;height:41px;">
<div class="tv">Clothing and<br>accessories</div></div>
<div class="inp" style="left:365.8px;top:858.4px;width:61.9px;height:41px;">
<div class="tv">Sit</div></div>
<div class="inp" style="left:438.9px;top:858.4px;width:60.8px;height:41px;">
<div class="tv">Visual<br>signal</div></div>
<div class="inp" style="left:511.1px;top:858.4px;width:60.9px;height:41px;">
<div class="tv">Favourite<br>treat</div></div>
<div class="inp" style="left:583.1px;top:858.4px;width:61.1px;height:41px;">
<div class="nv" style="width:42.6px">2.0</div>
<svg class="spin" style="right:4.0px" width="11.5" height="12" viewBox="0 0 11.5 12"><path d="M3.4 4.9L5.75 2.9L8.1 4.9M3.4 7.1L5.75 9.1L8.1 7.1" stroke="#8c8c8c" stroke-width="1" fill="none"/></svg>
</div>
<svg class="cb" style="left:666.9px;top:873.8px" width="9" height="9" viewBox="0 0 9 9"><rect x="0" y="0" width="9" height="9" rx="1.6" fill="#e2531f"/><path d="M1.9 4.7L3.7 6.4L7.1 2.4" stroke="#fff" stroke-width="1.45" fill="none" stroke-linecap="round" stroke-linejoin="round"/></svg>
<svg class="cb" style="left:708.9px;top:873.8px" width="9" height="9" viewBox="0 0 9 9"><rect x="0" y="0" width="9" height="9" rx="1.6" fill="#e2531f"/><path d="M1.9 4.7L3.7 6.4L7.1 2.4" stroke="#fff" stroke-width="1.45" fill="none" stroke-linecap="round" stroke-linejoin="round"/></svg>
<svg class="cb" style="left:750.9px;top:873.8px" width="9" height="9" viewBox="0 0 9 9"><rect x="0" y="0" width="9" height="9" rx="1.6" fill="#e2531f"/><path d="M1.9 4.7L3.7 6.4L7.1 2.4" stroke="#fff" stroke-width="1.45" fill="none" stroke-linecap="round" stroke-linejoin="round"/></svg>
<svg class="cb" style="left:792.9px;top:873.8px" width="9" height="9" viewBox="0 0 9 9"><rect x="0" y="0" width="9" height="9" rx="1.6" fill="#e2531f"/><path d="M1.9 4.7L3.7 6.4L7.1 2.4" stroke="#fff" stroke-width="1.45" fill="none" stroke-linecap="round" stroke-linejoin="round"/></svg>
<div class="inp" style="left:824.0px;top:858.4px;width:60.9px;height:41px;">
<div class="tv" style="color:#222;margin-top:-0.3px">None</div></div>
<div class="inp" style="left:896.0px;top:858.4px;width:122.9px;height:41px;">
<svg class="grip" width="7" height="7" viewBox="0 0 7 7"><g fill="#7c7c7c"><rect x="0" y="6" width="1" height="1"/><rect x="1" y="5" width="1" height="1"/><rect x="2" y="4" width="1" height="1"/><rect x="2" y="6" width="1" height="1"/><rect x="3" y="3" width="1" height="1"/><rect x="3" y="5" width="1" height="1"/><rect x="4" y="2" width="1" height="1"/><rect x="4" y="4" width="1" height="1"/><rect x="4" y="6" width="1" height="1"/><rect x="5" y="1" width="1" height="1"/><rect x="5" y="3" width="1" height="1"/><rect x="5" y="5" width="1" height="1"/><rect x="6" y="0" width="1" height="1"/><rect x="6" y="2" width="1" height="1"/><rect x="6" y="4" width="1" height="1"/><rect x="6" y="6" width="1" height="1"/></g></svg>
</div>
<div class="resp" style="left:1030.3px;top:867.05px;width:609.2px;height:24.2px">
<div>Accuracy Ratio - Eager - 50.0 %</div>
</div>
<svg class="trash" style="left:1672.65px;top:867.2px" viewBox="0 0 448 512" width="17.5" height="20"><path fill="#ff0000" d="M432 32H312l-9.4-18.7A24 24 0 0 0 281.1 0H166.8a23.72 23.72 0 0 0-21.4 13.3L136 32H16A16 16 0 0 0 0 48v32a16 16 0 0 0 16 16h416a16 16 0 0 0 16-16V48a16 16 0 0 0-16-16zM53.2 467a48 48 0 0 0 47.9 45h245.8a48 48 0 0 0 47.9-45L416 128H32z"/></svg>
</div>
<div id="ftr">
<a href="#" style="left:435.4px;top:20px">Accessibility statement</a>
<a href="#" style="left:1397.2px;top:20px">Privacy notice</a>
</div>
<div id="copy">Copyright © Precision And Research Technology Systems Limited - Fetch Metrics. <a href="#">All rights reserved.</a> Company number 13587499</div>
</div></body></html>
